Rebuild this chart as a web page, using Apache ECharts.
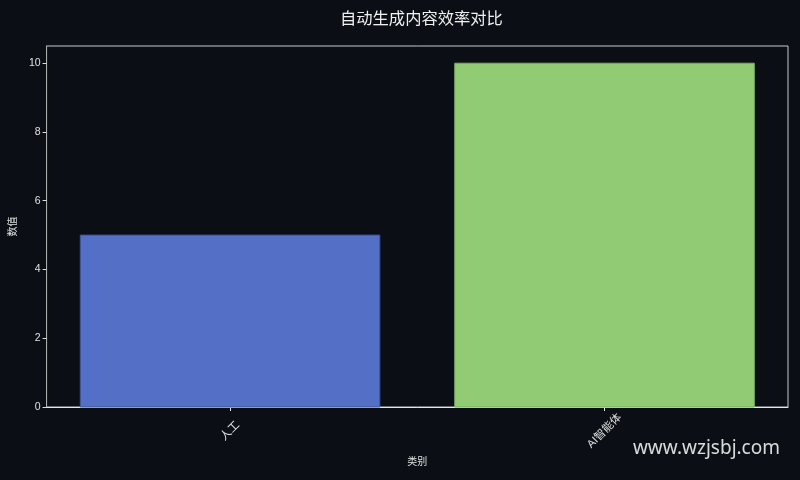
<!DOCTYPE html>
<html>
<head>
<meta charset="utf-8">
<script src="https://cdn.jsdelivr.net/npm/echarts@6/dist/echarts.min.js"></script>
<style>
html,body{margin:0;padding:0;background:#0b0e15;}
#c{width:800px;height:480px;}
</style>
</head>
<body>
<div id="c"></div>
<script>
const categories = ['人工', 'AI智能体'];
const values = [5, 10];
const barColors = ['#5470c6', '#91cc75'];
const barEdges = ['#3d5596', '#7aad62'];
const yTicks = [0, 2, 4, 6, 8, 10];

const chart = echarts.init(document.getElementById('c'));
const font = '"Liberation Sans", "Noto Sans CJK SC", sans-serif';
chart.setOption({
  backgroundColor: '#0b0e15',
  animation: false,
  title: {
    text: '自动生成内容效率对比',
    left: 335,
    top: 5,
    textStyle: {color: '#f0f0f0', fontSize: 16.3, fontWeight: 'normal', fontFamily: '"Noto Sans CJK SC", sans-serif'}
  },
  grid: {
    left: 46.5, right: 12, top: 46, bottom: 73,
    show: true, borderColor: '#c8c8c8', borderWidth: 1, backgroundColor: 'transparent'
  },
  xAxis: {
    type: 'value',
    min: -0.49, max: 1.49,
    name: '类别',
    nameLocation: 'middle',
    nameGap: 50,
    nameTextStyle: {color: '#e0e0e0', fontSize: 10, fontFamily: font},
    splitLine: {show: false},
    axisLine: {show: true, onZero: false, lineStyle: {color: '#e6e6e6', width: 1}},
    axisTick: {show: true, customValues: [0, 1], length: 4, lineStyle: {color: '#e6e6e6'}},
    axisLabel: {
      customValues: [0, 1],
      rotate: 45,
      align: 'center',
      verticalAlign: 'middle',
      margin: 24,
      color: '#e0e0e0',
      fontSize: 11,
      fontFamily: font,
      formatter: v => categories[Math.round(v)]
    }
  },
  yAxis: {
    type: 'value',
    min: 0, max: 10.5,
    name: '数值',
    nameLocation: 'middle',
    nameGap: 28,
    nameRotate: 90,
    nameTextStyle: {color: '#e0e0e0', fontSize: 10, fontFamily: font},
    splitLine: {show: false},
    axisLine: {show: true, onZero: false, lineStyle: {color: '#aaaaaa', width: 1}},
    axisTick: {show: true, customValues: yTicks, length: 4, lineStyle: {color: '#dddddd'}},
    axisLabel: {customValues: yTicks, color: '#e0e0e0', fontSize: 10.5, margin: 6, fontFamily: font}
  },
  series: [{
    type: 'custom',
    data: values.map((v, i) => [i, v]),
    renderItem: function (params, api) {
      const i = api.value(0), v = api.value(1);
      const p0 = api.coord([i - 0.4, v]);
      const p1 = api.coord([i + 0.4, 0]);
      return {
        type: 'rect',
        shape: {x: p0[0], y: p0[1], width: p1[0] - p0[0], height: p1[1] - p0[1]},
        style: {fill: barColors[i], stroke: barEdges[i], lineWidth: 1}
      };
    }
  }],
  graphic: [{
    type: 'text',
    right: 20,
    top: 439,
    style: {text: 'www.wzjsbj.com', fill: 'rgba(235,235,235,0.92)', fontSize: 19, fontFamily: '"Noto Sans", sans-serif'}
  }]
});
</script>
</body>
</html>
